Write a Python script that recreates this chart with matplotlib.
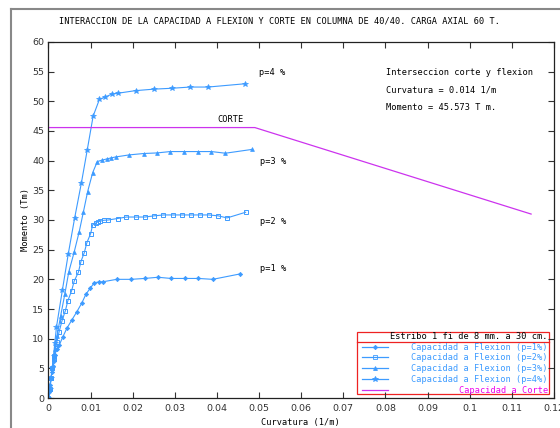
import matplotlib
matplotlib.use("Agg")
import matplotlib.pyplot as plt
from matplotlib.lines import Line2D
from matplotlib.patches import Rectangle

# curvatura (1/m) y momento (Tm)
curv_p1 = [0, 0.0002, 0.0004, 0.0006, 0.0008, 0.0010, 0.0012, 0.0015, 0.0020, 0.0026,
           0.0034, 0.0044, 0.0055, 0.0067, 0.0079, 0.0089, 0.0099, 0.0109, 0.0120, 0.0130,
           0.0162, 0.0196, 0.0228, 0.0260, 0.0291, 0.0324, 0.0356, 0.0390, 0.0454]
mom_p1 = [0, 1.1, 2.2, 3.3, 4.4, 5.4, 6.3, 7.3, 8.3, 9.0,
          10.3, 11.8, 13.1, 14.5, 16.0, 17.5, 18.5, 19.45, 19.55, 19.6,
          20.0, 20.0, 20.15, 20.35, 20.15, 20.15, 20.15, 20.0, 20.9]

curv_p2 = [0, 0.0003, 0.0006, 0.0009, 0.0012, 0.0014, 0.0017, 0.0020, 0.0025, 0.0032,
           0.0040, 0.0046, 0.0055, 0.0061, 0.0071, 0.0077, 0.0085, 0.0091, 0.0100, 0.0105,
           0.0112, 0.0118, 0.0123, 0.0131, 0.0142, 0.0164, 0.0185, 0.0208, 0.0229, 0.0251,
           0.0273, 0.0295, 0.0316, 0.0338, 0.0359, 0.0381, 0.0403, 0.0424, 0.0468]
mom_p2 = [0, 1.6, 3.3, 5.0, 6.6, 7.1, 8.5, 9.5, 11.1, 13.0,
          14.7, 16.4, 18.1, 19.7, 21.2, 23.0, 24.5, 26.15, 27.7, 29.2,
          29.5, 29.7, 29.8, 29.95, 30.0, 30.25, 30.5, 30.5, 30.5, 30.7,
          30.85, 30.85, 30.85, 30.85, 30.85, 30.85, 30.7, 30.35, 31.3]

curv_p3 = [0, 0.0003, 0.0006, 0.0009, 0.0012, 0.0015, 0.0020, 0.0029, 0.0039, 0.0048,
           0.0061, 0.0073, 0.0083, 0.0093, 0.0105, 0.0116, 0.0127, 0.0139, 0.0149, 0.0161,
           0.0192, 0.0226, 0.0258, 0.0289, 0.0322, 0.0355, 0.0387, 0.0420, 0.0484]
mom_p3 = [0, 1.6, 3.3, 5.0, 6.6, 8.3, 10.4, 13.9, 17.6, 21.2,
          24.6, 28.05, 31.4, 34.8, 38.0, 39.85, 40.08, 40.3, 40.47, 40.64,
          40.97, 41.2, 41.3, 41.53, 41.53, 41.53, 41.53, 41.25, 41.9]

curv_p4 = [0, 0.0003, 0.0006, 0.0009, 0.0012, 0.0015, 0.0019, 0.0033, 0.0047, 0.0062,
           0.0078, 0.0092, 0.0106, 0.0121, 0.0135, 0.0150, 0.0165, 0.0207, 0.0251, 0.0294,
           0.0336, 0.0379, 0.0466]
mom_p4 = [0, 1.6, 3.3, 5.0, 7.1, 9.3, 12.0, 18.2, 24.3, 30.3,
          36.2, 41.8, 47.5, 50.34, 50.74, 51.2, 51.36, 51.8, 52.05, 52.2,
          52.4, 52.4, 52.95]

curv_corte = [0, 0.049, 0.1146]
mom_corte = [45.573, 45.573, 31.0]

azul = "#3d9bff"
magenta = "#cc33ee"
mono = "DejaVu Sans Mono"

fig = plt.figure(figsize=(5.6, 4.28), dpi=100)
ax = fig.add_axes([0.0866, 0.070, 0.9024, 0.832])

ax.plot(curv_p1, mom_p1, color=azul, lw=0.8, marker="D", ms=2.2, mew=0.5)
ax.plot(curv_p2, mom_p2, color=azul, lw=0.8, marker="s", ms=3.2, mfc="none", mew=0.7)
ax.plot(curv_p3, mom_p3, color=azul, lw=0.8, marker="^", ms=2.8, mew=0.5)
ax.plot(curv_p4, mom_p4, color=azul, lw=0.8, marker="*", ms=4, mew=0.5)
ax.plot(curv_corte, mom_corte, color=magenta, lw=0.9)

ax.set_xlim(0, 0.12)
ax.set_ylim(0, 60)
ax.set_xticks([i * 0.01 for i in range(13)])
ax.set_xticklabels(["0", "0.01", "0.02", "0.03", "0.04", "0.05", "0.06", "0.07",
                    "0.08", "0.09", "0.1", "0.11", "0.12"])
ax.set_yticks(range(0, 61, 5))
ax.tick_params(direction="in", length=4, width=0.8, top=True, right=True,
               labelsize=6.8, colors="#333333", pad=4)
ax.tick_params(axis="y", pad=3)
for s in ax.spines.values():
    s.set_linewidth(0.9)
    s.set_color("#222222")

# textos sobre las curvas
ax.text(0.0499, 54.8, "p=4 %", fontsize=6.2, family=mono, va="center")
ax.text(0.0502, 39.9, "p=3 %", fontsize=6.2, family=mono, va="center")
ax.text(0.0502, 29.8, "p=2 %", fontsize=6.2, family=mono, va="center")
ax.text(0.0502, 21.9, "p=1 %", fontsize=6.2, family=mono, va="center")
ax.text(0.0433, 47.0, "CORTE", fontsize=6.2, family=mono, ha="center", va="center")
ax.text(0.0801, 54.8, "Interseccion corte y flexion", fontsize=6.2, family=mono, va="center")
ax.text(0.0801, 51.9, "Curvatura = 0.014 1/m", fontsize=6.2, family=mono, va="center")
ax.text(0.0801, 48.9, "Momento = 45.573 T m.", fontsize=6.2, family=mono, va="center")

# leyenda al estilo gnuplot
ax.add_patch(Rectangle((0.611, 0.011), 0.380, 0.175, transform=ax.transAxes,
                       fill=False, ec="#ee2222", lw=0.9, clip_on=False))
ax.plot([0.611, 0.991], [0.157, 0.157], transform=ax.transAxes, color="#ee2222",
        lw=0.9, clip_on=False)
ax.text(0.988, 0.172, "Estribo 1 fi de 8 mm. a 30 cm.", transform=ax.transAxes,
        fontsize=6.2, family=mono, ha="right", va="center")
leyenda = [("Capacidad a Flexion (p=1%)", azul, "D", "full"),
           ("Capacidad a Flexion (p=2%)", azul, "s", "none"),
           ("Capacidad a Flexion (p=3%)", azul, "^", "full"),
           ("Capacidad a Flexion (p=4%)", azul, "*", "full"),
           ("Capacidad a Corte", magenta, None, "full")]
ys = [0.142, 0.114, 0.083, 0.053, 0.022]
tam = {"D": 2.2, "s": 3.2, "^": 2.8, "*": 4}
for (txt, col, mk, fill), yy in zip(leyenda, ys):
    ax.plot([0.620, 0.671], [yy, yy], transform=ax.transAxes, color=col, lw=0.9, clip_on=False)
    if mk:
        ax.plot([0.6455], [yy], transform=ax.transAxes, color=col, marker=mk,
                ms=tam[mk], mfc=col if fill == "full" else "none",
                mew=0.6, clip_on=False)
    ax.text(0.988, yy, txt, transform=ax.transAxes, fontsize=6.2, family=mono,
            ha="right", va="center", color="#ee00ee" if col == magenta else azul)

fig.text(0.499, 0.951, "INTERACCION DE LA CAPACIDAD A FLEXION Y CORTE EN COLUMNA DE 40/40. CARGA AXIAL 60 T.",
         fontsize=6.2, family=mono, ha="center", va="center")
fig.text(0.536, 0.012, "Curvatura (1/m)", fontsize=6.2, family=mono, ha="center", va="center")
fig.text(0.046, 0.486, "Momento (Tm)", fontsize=6.2, family=mono, ha="center", va="center",
         rotation=90)

# marco exterior de la ventana
fig.add_artist(Line2D([0.0205, 1.0], [0.978, 0.978], color="#888888", lw=1.5))
fig.add_artist(Line2D([0.0205, 0.0205], [0.0, 0.978], color="#888888", lw=1.5))

fig.savefig("out.png", dpi=100)
